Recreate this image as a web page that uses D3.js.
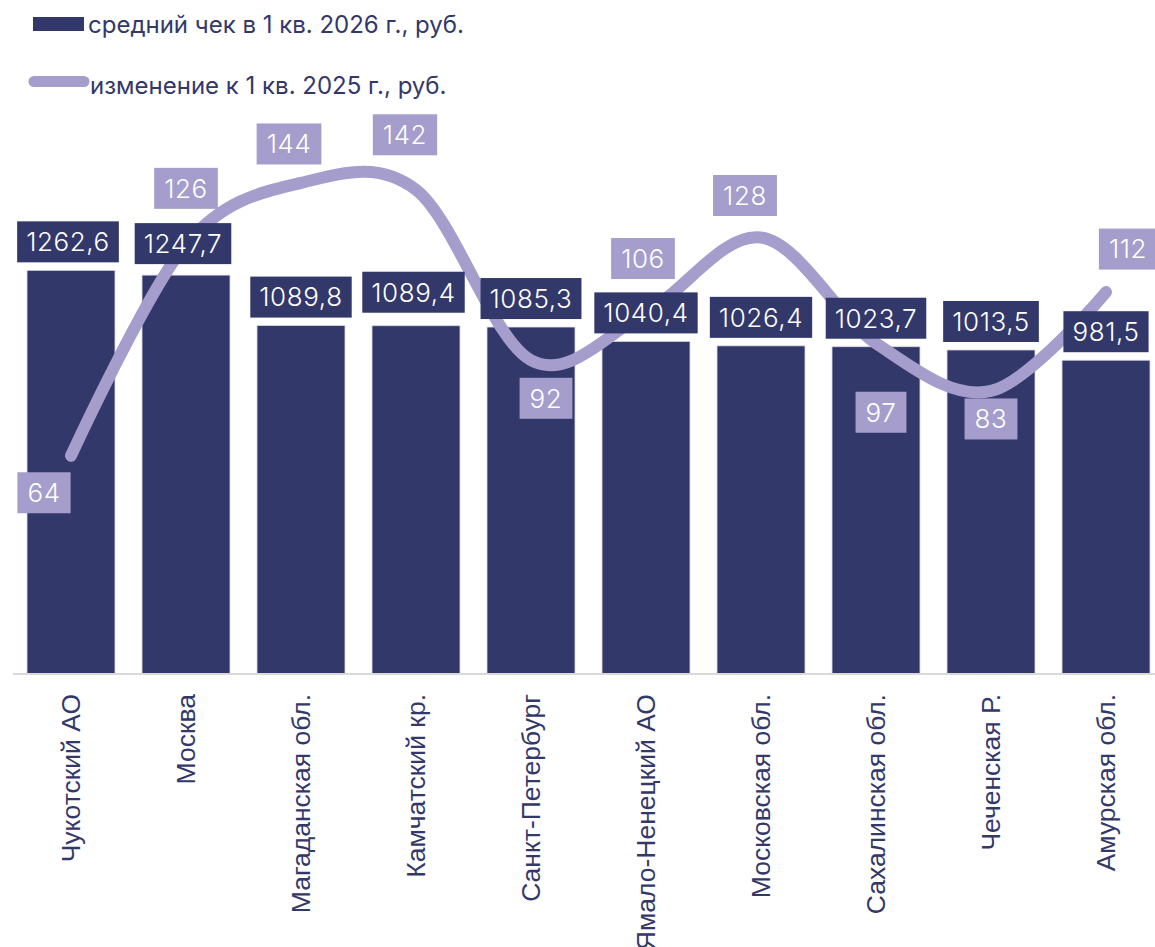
<!DOCTYPE html>
<html>
<head>
<meta charset="utf-8">
<script src="https://cdn.jsdelivr.net/npm/d3@7"></script>
<style>
  html, body { margin: 0; padding: 0; background: #ffffff; }
  svg { display: block; }
</style>
</head>
<body>
<svg id="chart" width="1155" height="947"></svg>
<script>
// ---- data ----
const categories = ["Чукотский АО", "Москва", "Магаданская обл.", "Камчатский кр.", "Санкт-Петербург",
  "Ямало-Ненецкий АО", "Московская обл.", "Сахалинская обл.", "Чеченская Р.", "Амурская обл."];
const avgCheck = [1262.6, 1247.7, 1089.8, 1089.4, 1085.3, 1040.4, 1026.4, 1023.7, 1013.5, 981.5];
const change = [64, 126, 144, 142, 92, 106, 128, 97, 83, 112];
const seriesNames = ["средний чек в 1 кв. 2026 г., руб.", "изменение к 1 кв. 2025 г., руб."];

// ---- label placement (annotation offsets) ----
const barLabelDx = [-3, -3, 0, -2.5, 0, 0, 0, 0, 0, 0];
const barLabelLift = [0, 3, 0, 5, 0, 0, 0, 0, 0, 0];
const lineLabelDx = [-27, 0, -12, -11, 15, -3, -16, 5, 0, 22];
const lineLabelDy = [37, -56, -39, -55, 38, -54, -42, 69, 28, -43];

// ---- style ----
const NAVY = "#33386a";
const LILAC = "#a59dcb";
const baseY = 674;

const svg = d3.select("#chart");

const x = d3.scaleBand().domain(categories).range([13.5, 1163.5]).paddingInner(0.235).paddingOuter(0.1175);
const y = d3.scaleLinear().domain([0, 1400]).range([baseY, baseY - 1400 * 0.3197]);
const y2 = d3.scaleLinear().domain([0, 140]).range([baseY, baseY - 140 * 3.41]);

const fmt = v => d3.format(".1f")(v).replace(".", ",");

// bars
svg.append("g").selectAll("rect").data(avgCheck).join("rect")
  .attr("x", (d, i) => x(categories[i]))
  .attr("y", d => y(d))
  .attr("width", x.bandwidth())
  .attr("height", d => baseY - y(d))
  .attr("fill", NAVY)
  .attr("stroke", "#d8d8e4")
  .attr("stroke-width", 0.8);

// axis baseline
const xAxis = d3.axisBottom(x).tickSize(0).tickFormat("");
const axG = svg.append("g").attr("transform", `translate(0,${baseY})`).call(xAxis);
axG.select(".domain").attr("stroke", "#d9d9d9").attr("stroke-width", 2).attr("d", `M13,0H1163`);

// category labels
svg.append("g").selectAll("text").data(categories).join("text")
  .attr("transform", d => `translate(${x(d) + x.bandwidth() / 2},694) rotate(-90)`)
  .attr("text-anchor", "end")
  .attr("dy", "0.35em")
  .attr("font-family", "'Liberation Sans', Arial, sans-serif")
  .attr("font-size", 26.5)
  .attr("fill", NAVY)
  .text(d => d);

// line
const line = d3.line()
  .x((d, i) => x(categories[i]) + x.bandwidth() / 2)
  .y(d => y2(d))
  .curve(d3.curveCardinal.tension(0));
svg.append("path").datum(change)
  .attr("d", line)
  .attr("fill", "none")
  .attr("stroke", LILAC)
  .attr("stroke-width", 12)
  .attr("stroke-linecap", "round")
  .attr("stroke-linejoin", "round");

// label helper
function boxLabel(g, cx, cy, text, fill, fontSize, padX) {
  const t = g.append("text")
    .attr("x", cx).attr("y", cy)
    .attr("text-anchor", "middle")
    .attr("dy", "0.36em")
    .attr("font-family", "Inter, 'Open Sans', sans-serif")
    .attr("font-weight", 300)
    .attr("letter-spacing", "0.6px")
    .attr("font-size", fontSize)
    .attr("fill", "#ffffff")
    .text(text);
  const w = t.node().getComputedTextLength() + 2 * padX;
  g.insert("rect", "text:last-child")
    .attr("x", cx - w / 2).attr("y", cy - 20.5)
    .attr("width", w).attr("height", 41)
    .attr("fill", fill);
}

// bar labels
const barLab = svg.append("g");
avgCheck.forEach((v, i) => {
  const g = barLab.append("g");
  const cx = x(categories[i]) + x.bandwidth() / 2 + barLabelDx[i];
  const cy = y(v) - 8 - barLabelLift[i] - 20.5;
  boxLabel(g, cx, cy, fmt(v), NAVY, 26, 9);
});

// line labels
const lineLab = svg.append("g");
change.forEach((v, i) => {
  const g = lineLab.append("g");
  const cx = x(categories[i]) + x.bandwidth() / 2 + lineLabelDx[i];
  const cy = y2(v) + lineLabelDy[i];
  boxLabel(g, cx, cy, String(v), LILAC, 26, 10);
});

// legend
const lg = svg.append("g");
lg.append("rect").attr("x", 33).attr("y", 17).attr("width", 51).attr("height", 14).attr("fill", NAVY);
lg.append("text").attr("x", 88).attr("y", 33)
  .attr("font-family", "Inter, 'Open Sans', sans-serif").attr("font-size", 24)
  .attr("fill", NAVY).text(seriesNames[0]);
lg.append("line").attr("x1", 34).attr("x2", 84).attr("y1", 81.5).attr("y2", 81.5)
  .attr("stroke", LILAC).attr("stroke-width", 11).attr("stroke-linecap", "round");
lg.append("text").attr("x", 90).attr("y", 94)
  .attr("font-family", "Inter, 'Open Sans', sans-serif").attr("font-size", 24)
  .attr("fill", NAVY).text(seriesNames[1]);
</script>
</body>
</html>
